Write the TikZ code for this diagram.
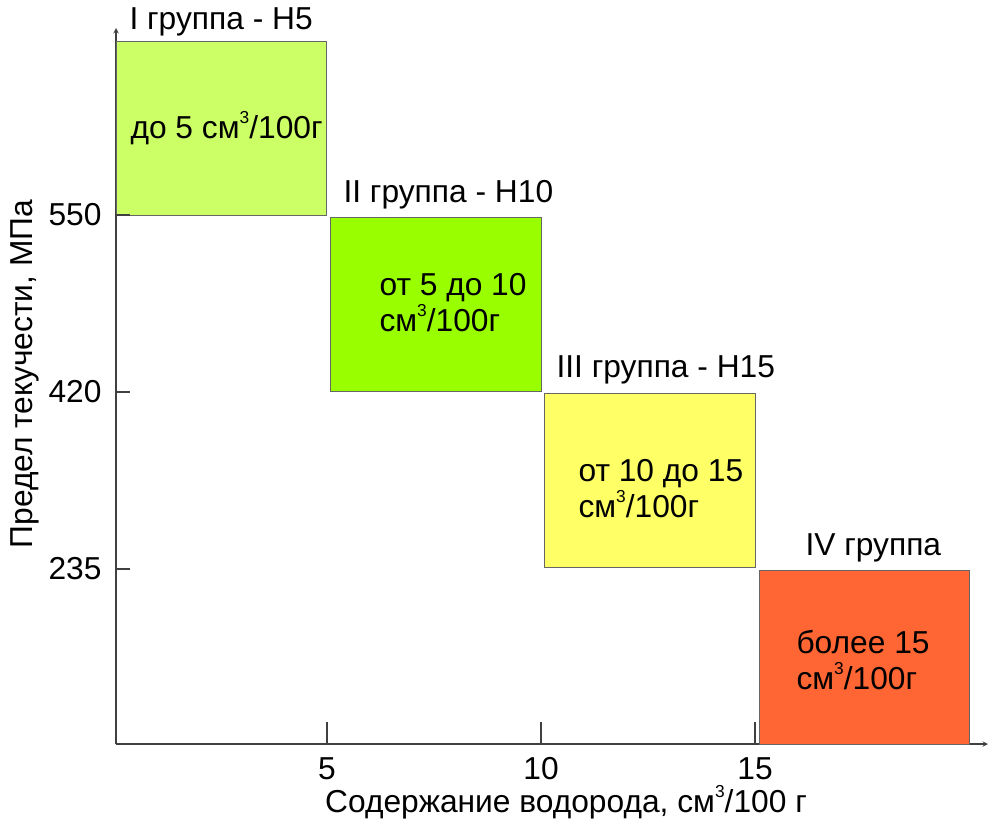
\documentclass[tikz,border=0pt]{standalone}
\usepackage{fontspec}
\setmainfont{Liberation Sans}
\usetikzlibrary{positioning}

\definecolor{grpone}{HTML}{CCFF66}
\definecolor{grptwo}{HTML}{99FF00}
\definecolor{grpthree}{HTML}{FFFF66}
\definecolor{grpfour}{HTML}{FF6633}

% small raised cube sign
\newcommand{\cubed}{\raisebox{0.9ex}{\fontsize{13}{13}\selectfont 3}}

\begin{document}
\begin{tikzpicture}[x=0.75pt, y=-0.75pt, >=stealth, thick,
  grp/.style={draw=black!60, line width=0.6pt, minimum width=158pt, minimum height=130pt, inner sep=0pt},
  txt/.style={font=\fontsize{23.8}{27}\selectfont, inner sep=0pt, align=left},
  axis/.style={draw=black!75, line width=0.8pt}]

  \useasboundingbox (0,0) rectangle (988,818);

  % axes
  \coordinate (O) at (116,744);
  \coordinate (xe) at (988,744);
  \coordinate (ye) at (116,28);
  \draw[axis, ->] (O) -- (xe);
  \draw[axis, ->] (O) -- (ye);

  % boxes
  \node[grp, fill=grpone]   (g1) at (221.5,128.5) {};
  \node[grp, fill=grptwo]   (g2) at (436,304.5) {};
  \node[grp, fill=grpthree] (g3) at (650,480.5) {};
  \node[grp, fill=grpfour]  (g4) at (864.5,657.5) {};

  % ticks
  \foreach \x/\v in {327/5, 541/10, 755/15} {
    \draw[axis] (\x,744) -- (\x,722);
    \node[txt] at (\x,769) {\v};
  }
  \foreach \y/\v in {215/550, 392/420, 569/235} {
    \draw[axis] (116,\y) -- (130,\y);
    \node[txt, anchor=east] at (102,\y) {\v};
  }

  % group titles
  \node[txt, anchor=west] (t1) at (129,22)  {I группа - Н5};
  \node[txt, anchor=west] (t2) at (343,195) {II группа - Н10};
  \node[txt, anchor=west] (t3) at (556,370) {III группа - Н15};
  \node[txt, anchor=west] (t4) at (805,548) {IV группа};

  % contents
  \node[txt, anchor=west] (d1) at (130,128) {до 5 см\cubed/100г};
  \node[txt, anchor=west] (d2) at (379,303) {от 5 до 10\\см\cubed/100г};
  \node[txt, anchor=west] (d3) at (578,489) {от 10 до 15\\см\cubed/100г};
  \node[txt, anchor=west] (d4) at (796,660) {более 15\\см\cubed/100г};

  % axis titles
  \node[txt] (xl) at (566,802) {Содержание водорода, см\cubed/100 г};
  \node[txt, rotate=90] (yl) at (25,374) {Предел текучести, МПа};

\end{tikzpicture}
\end{document}
